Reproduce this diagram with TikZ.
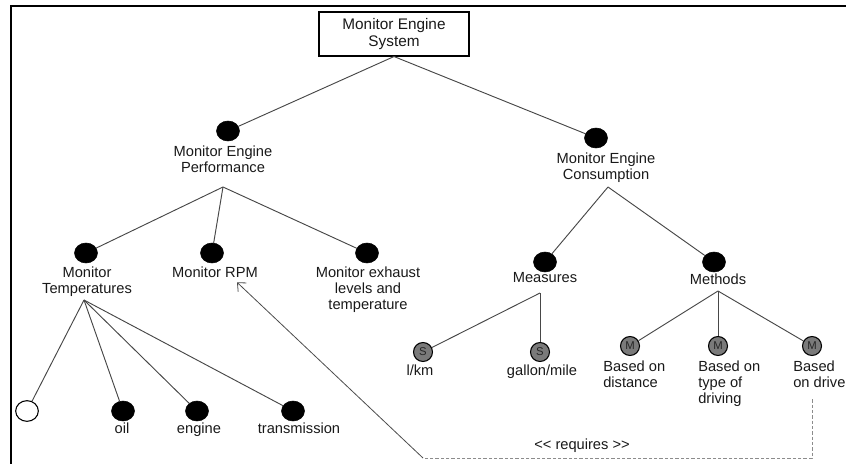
\documentclass[tikz,border=0pt]{standalone}
\usepackage{fontspec}
\setmainfont{Liberation Sans}
\usetikzlibrary{shapes.geometric,arrows.meta,calc}
\begin{document}
\begin{tikzpicture}[x=0.75pt,y=-0.75pt,
  every node/.style={font=\fontsize{11}{12}\selectfont, inner sep=0pt, text=black!90},
  rootbox/.style={draw=black, line width=0.8pt, minimum width=112.5pt, minimum height=33pt, align=center,
    font=\fontsize{11.5}{12.5}\selectfont},
  feat/.style={ellipse, fill=black, draw=black, minimum width=17.25pt, minimum height=15pt},
  optfeat/.style={ellipse, fill=white, draw=black, line width=0.8pt, minimum width=17pt, minimum height=15.5pt},
  varfeat/.style={circle, fill={rgb,255:red,122;green,122;blue,122}, draw=black, line width=0.8pt,
    minimum size=14.25pt, font=\fontsize{8.5}{9}\selectfont, text=black!85},
  lbl/.style={align=center, anchor=north},
  llbl/.style={align=left, anchor=north west},
  link/.style={draw=black!72, line width=0.7pt},
  reqdash/.style={draw=black!45, line width=0.7pt, dash pattern=on 2.5pt off 1.5pt},
  reqline/.style={draw=black!70, line width=0.6pt, -{Straight Barb[length=5pt,width=9pt]}}]

\useasboundingbox (0,0) rectangle (846,464);
\clip (0,0) rectangle (846,464);

% outer frame (top and left edges)
\draw[line width=1.5pt] (11,470) -- (11,6) -- (850,6);

% root
\node[rootbox] (root) at (394,34) {Monitor Engine\\System};

% first level
\node[feat] (perf) at (228,131) {};
\node[lbl] (perfL) at (223,146) {Monitor Engine\\Performance};
\coordinate (perfJ) at (223,187);

\node[feat] (cons) at (596,138) {};
\node[lbl] (consL) at (606,153) {Monitor Engine\\Consumption};
\coordinate (consJ) at (608,187);

% performance children
\node[feat] (temp) at (86,253) {};
\node[lbl] (tempL) at (87,267) {Monitor\\Temperatures};
\coordinate (tempJ) at (84,300);

\node[feat] (rpm) at (212,253) {};
\node[lbl] (rpmL) at (215,267) {Monitor RPM};

\node[feat] (exh) at (367,253) {};
\node[lbl] (exhL) at (368,267) {Monitor exhaust\\levels and\\temperature};

% consumption children
\node[feat] (meas) at (545,262) {};
\node[lbl] (measL) at (545,272) {Measures};
\coordinate (measJ) at (540,293);

\node[feat] (meth) at (714,262) {};
\node[lbl] (methL) at (718,274) {Methods};
\coordinate (methJ) at (718,291);

% measures
\node[varfeat] (s1) at (423,352) {S};
\node[lbl] (s1L) at (420,365) {l/km};
\node[varfeat] (s2) at (540,352) {S};
\node[lbl] (s2L) at (542,365) {gallon/mile};

% methods
\node[varfeat] (m1) at (630,346) {M};
\node[llbl] (m1L) at (603,361) {Based on\\distance};
\node[varfeat] (m2) at (718,346) {M};
\node[llbl] (m2L) at (698,361) {Based on\\type of\\driving};
\node[varfeat] (m3) at (812,346) {M};
\node[llbl] (m3L) at (793,361) {Based\\on drive};

% temperatures
\node[optfeat] (opt) at (27,411) {};
\node[feat] (oil) at (123,411) {};
\node[lbl] (oilL) at (122,423) {oil};
\node[feat] (eng) at (197,411) {};
\node[lbl] (engL) at (199,423) {engine};
\node[feat] (trn) at (293,411) {};
\node[lbl] (trnL) at (299,423) {transmission};

% tree connectors
\draw[link] (root.south) -- (perf);
\draw[link] (root.south) -- (cons);
\foreach \c in {temp,rpm,exh} \draw[link] (perfJ) -- (\c);
\foreach \c in {meas,meth} \draw[link] (consJ) -- (\c);
\foreach \c in {opt,oil,eng,trn} \draw[link] (tempJ) -- (\c);
\foreach \c in {s1,s2} \draw[link] (measJ) -- (\c);
\foreach \c in {m1,m2,m3} \draw[link] (methJ) -- (\c);

% requires dependency
\coordinate (reqB) at (812,458);
\coordinate (reqC) at (423,458);
\draw[reqdash] ($(m3 |- m3L.south)+(0,11)$) -- (reqB) -- (reqC);
\draw[reqline] (reqC) -- ($(rpmL.south)+(22,4)$);
\node (req) at (582,446) {<{}< requires >{}>};
\end{tikzpicture}
\end{document}
